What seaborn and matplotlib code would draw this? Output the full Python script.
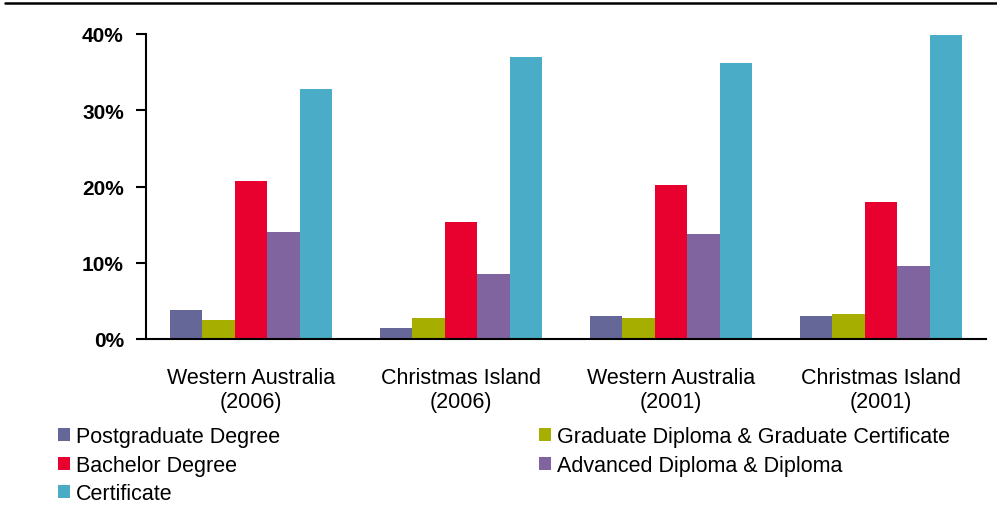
import matplotlib
matplotlib.use("Agg")
import matplotlib.pyplot as plt
from matplotlib.lines import Line2D
from matplotlib.patches import Patch
import seaborn as sns
import pandas as pd

regions = ["Western Australia\n(2006)", "Christmas Island\n(2006)",
           "Western Australia\n(2001)", "Christmas Island\n(2001)"]
levels = ["Postgraduate Degree", "Graduate Diploma & Graduate Certificate",
          "Bachelor Degree", "Advanced Diploma & Diploma", "Certificate"]
postgraduate = [3.8, 1.4, 3.0, 3.0]
graduate_diploma = [2.5, 2.7, 2.8, 3.3]
bachelor = [20.7, 15.3, 20.2, 18.0]
advanced_diploma = [14.0, 8.5, 13.8, 9.6]
certificate = [32.8, 37.0, 36.2, 39.9]
series = [postgraduate, graduate_diploma, bachelor, advanced_diploma, certificate]
colors = ["#666799", "#A6AE00", "#E8002E", "#8064A0", "#4AACC6"]
yticks = [0, 10, 20, 30, 40]
ytick_labels = ["0%", "10%", "20%", "30%", "40%"]

rows = []
for lvl, vals in zip(levels, series):
    for reg, v in zip(regions, vals):
        rows.append({"region": reg, "level": lvl, "value": v})
df = pd.DataFrame(rows)

sns.set_style("white")
plt.rcParams["font.family"] = ["Liberation Sans", "DejaVu Sans"]
plt.rcParams["text.color"] = "black"
plt.rcParams["xtick.color"] = "black"
plt.rcParams["ytick.color"] = "black"
plt.rcParams["xtick.labelcolor"] = "black"
plt.rcParams["ytick.labelcolor"] = "black"

fig = plt.figure(figsize=(9.97, 5.10), dpi=100)
ax = fig.add_axes([146/997, 1-340/510, (986-146)/997, (340-35)/510])

sns.barplot(data=df, x="region", y="value", hue="level", order=regions,
            hue_order=levels, palette=colors, saturation=1, width=0.77,
            gap=0, linewidth=0, ax=ax, legend=False)

ax.set_xlim(-0.5, 3.5)
ax.set_ylim(0, 40)
ax.set_yticks(yticks)
ax.set_yticklabels(ytick_labels, fontsize=15, fontweight="bold", color="black")
ax.set_xlabel("")
ax.set_ylabel("")
ax.tick_params(axis="x", length=0, pad=20, labelsize=15.5, labelcolor="black")
ax.tick_params(axis="y", length=7, width=1.5, direction="out", pad=9, left=True,
               color="black")
for lab in ax.get_xticklabels():
    lab.set_linespacing(1.2)
for s in ["top", "right"]:
    ax.spines[s].set_visible(False)
for s in ["left", "bottom"]:
    ax.spines[s].set_color("black")
    ax.spines[s].set_linewidth(1.5)

order = [0, 2, 4, 1, 3]
handles = [Patch(facecolor=colors[i], edgecolor="none") for i in order]
labels = [levels[i] for i in order]
fig.legend(handles, labels, ncol=2, loc="upper left",
           bbox_to_anchor=(58/997, 1-427/510), frameon=False, fontsize=15.5,
           handlelength=0.55, handleheight=0.55, handletextpad=0.3,
           columnspacing=12.0, labelspacing=0.36, borderaxespad=0, borderpad=0)

fig.add_artist(Line2D([5/997, 1.0], [1-4/510, 1-4/510], color="black", linewidth=1.8,
                      transform=fig.transFigure))

fig.savefig("out.png", dpi=100)
